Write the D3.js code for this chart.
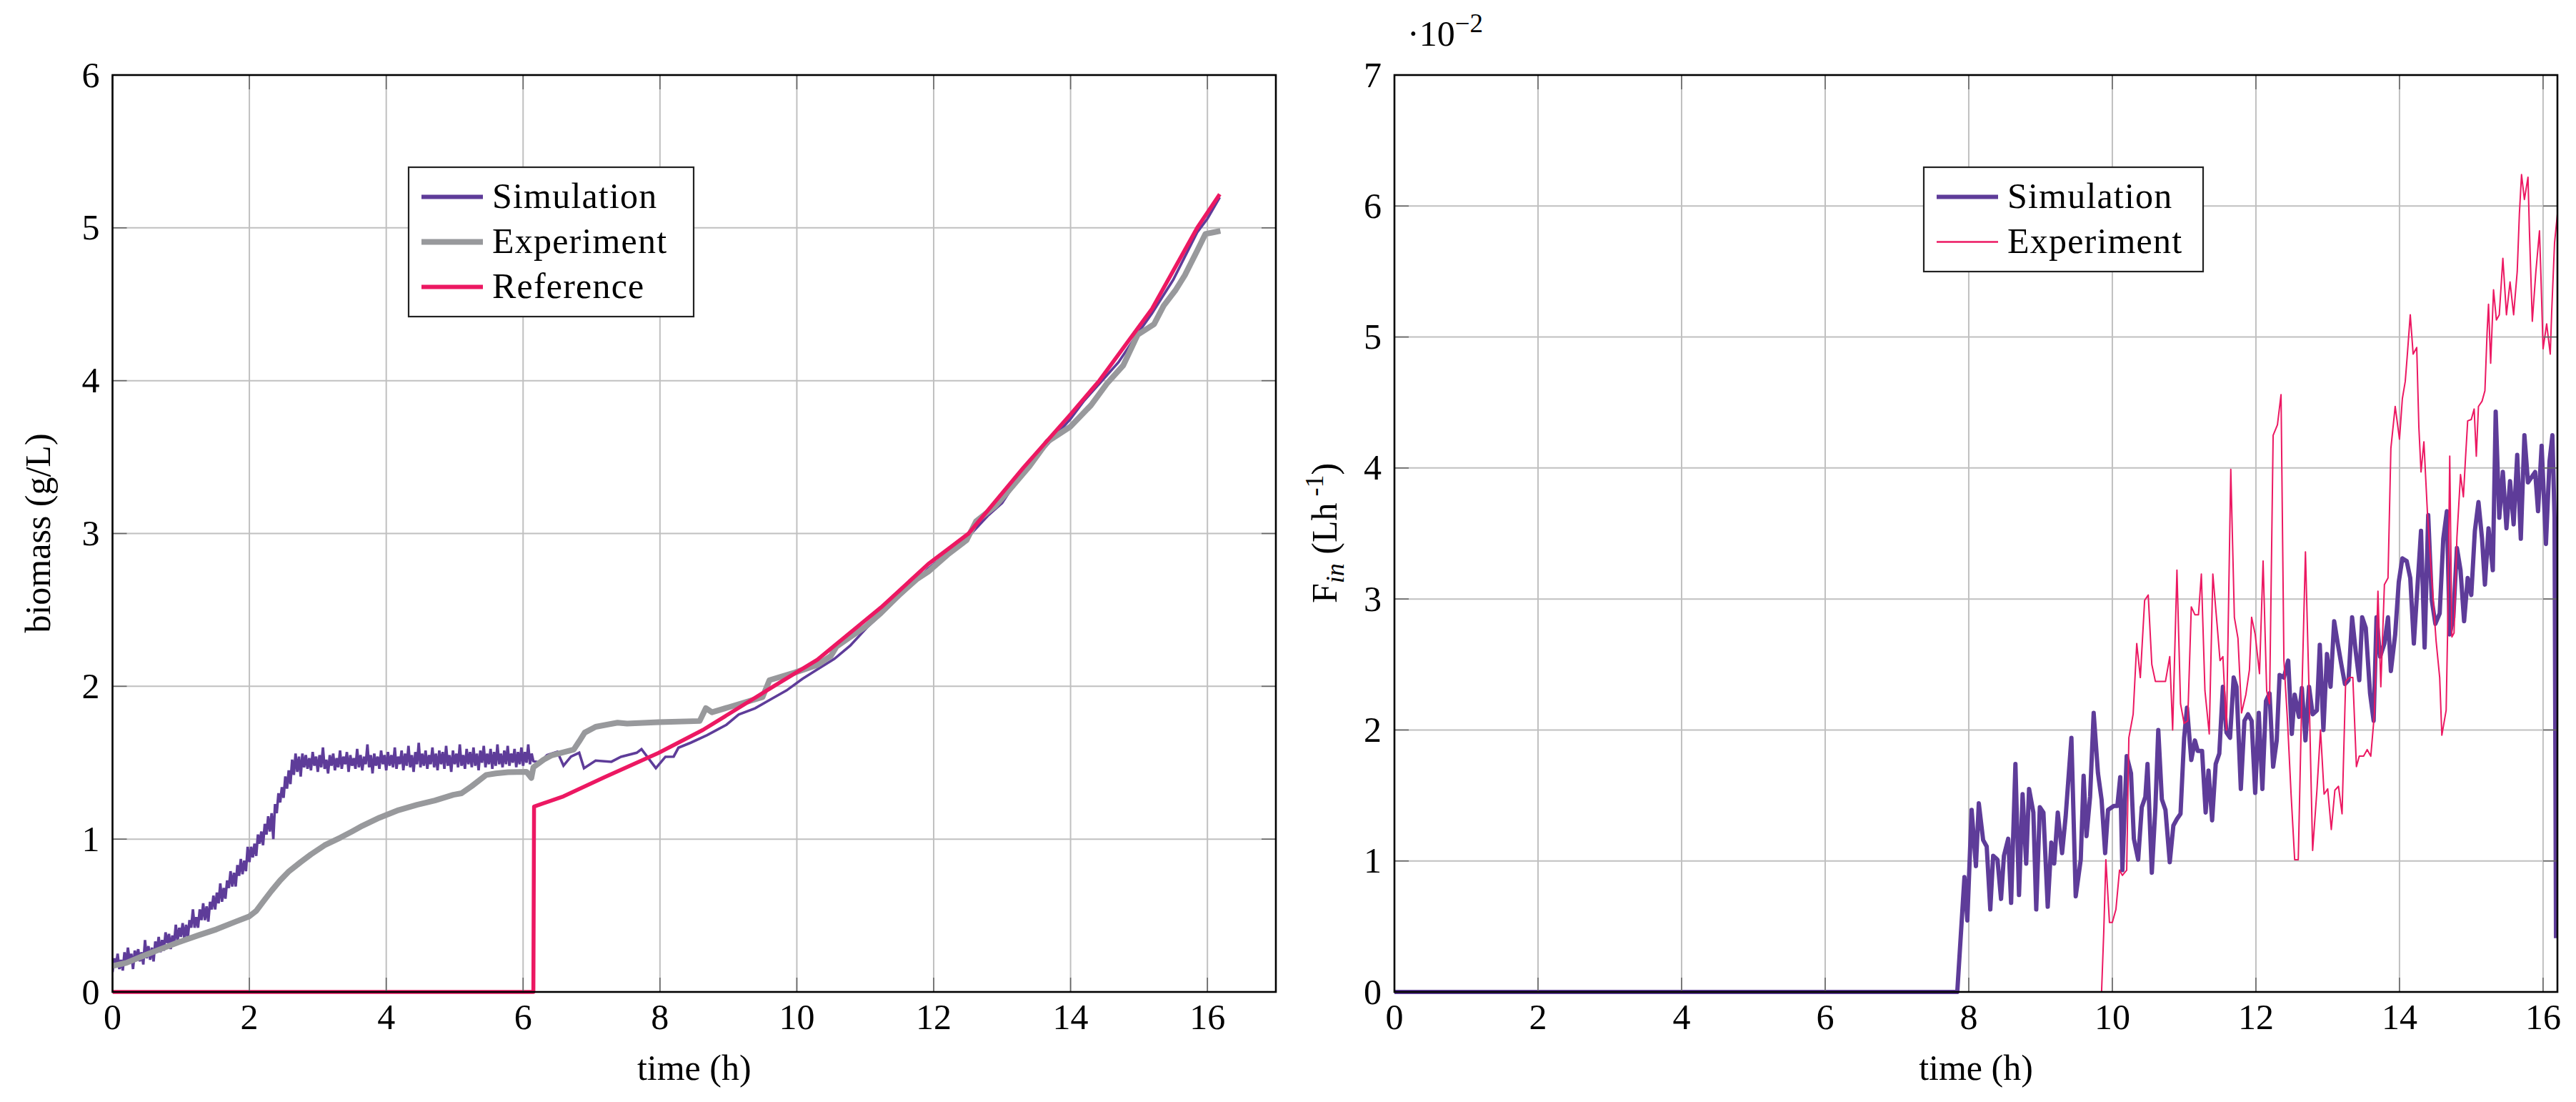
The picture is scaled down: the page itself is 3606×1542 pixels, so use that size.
<!DOCTYPE html>
<html><head><meta charset="utf-8">
<script src="https://cdn.jsdelivr.net/npm/d3@7"></script>
<style>
body{margin:0;background:#fff}
text{font-family:"Liberation Serif","Times New Roman","DejaVu Serif",serif;fill:#000}
</style>
</head><body>
<svg id="chart" width="3606" height="1542"></svg>
<script>
// ---------------- DATA ----------------
const leftXTicks = [0,2,4,6,8,10,12,14,16];
const leftYTicks = [0,1,2,3,4,5,6];
const rightXTicks = [0,2,4,6,8,10,12,14,16];
const rightYTicks = [0,1,2,3,4,5,6,7];   // ×10^-2

const leftLegend = ["Simulation","Experiment","Reference"];
const rightLegend = ["Simulation","Experiment"];

// biomass (g/L) vs time (h)
const bioSimulation = [
[0.000,0.13],[0.025,0.22],[0.050,0.17],[0.075,0.25],[0.100,0.15],[0.125,0.21],[0.150,0.14],[0.175,0.26],[0.200,0.18],[0.225,0.29],
[0.250,0.20],[0.275,0.25],[0.300,0.15],[0.325,0.27],[0.350,0.22],[0.375,0.28],[0.400,0.20],[0.425,0.26],[0.450,0.18],[0.475,0.34],
[0.500,0.22],[0.525,0.30],[0.550,0.21],[0.575,0.29],[0.600,0.20],[0.625,0.33],[0.650,0.27],[0.675,0.36],[0.700,0.26],[0.725,0.34],
[0.750,0.27],[0.775,0.39],[0.800,0.32],[0.825,0.38],[0.850,0.28],[0.875,0.37],[0.900,0.32],[0.925,0.44],[0.950,0.33],[0.975,0.42],
[1.000,0.36],[1.025,0.45],[1.050,0.35],[1.075,0.44],[1.100,0.35],[1.125,0.47],[1.150,0.42],[1.175,0.54],[1.200,0.42],[1.225,0.49],
[1.250,0.42],[1.275,0.54],[1.300,0.47],[1.325,0.58],[1.350,0.47],[1.375,0.56],[1.400,0.46],[1.425,0.59],[1.450,0.54],[1.475,0.63],
[1.500,0.54],[1.525,0.65],[1.550,0.58],[1.575,0.71],[1.600,0.59],[1.625,0.68],[1.650,0.61],[1.675,0.73],[1.700,0.68],[1.725,0.79],
[1.750,0.69],[1.775,0.78],[1.800,0.69],[1.825,0.83],[1.850,0.76],[1.875,0.87],[1.900,0.77],[1.925,0.86],[1.950,0.79],[1.975,0.95],
[2.000,0.85],[2.025,0.95],[2.050,0.88],[2.075,0.97],[2.100,0.89],[2.125,1.03],[2.150,0.97],[2.175,1.05],[2.200,0.96],[2.225,1.10],
[2.250,1.03],[2.275,1.15],[2.300,1.05],[2.325,1.17],[2.350,1.00],[2.375,1.23],[2.400,1.17],[2.425,1.30],[2.450,1.24],[2.475,1.34],
[2.500,1.27],[2.525,1.41],[2.550,1.33],[2.575,1.45],[2.600,1.36],[2.625,1.52],[2.650,1.42],[2.675,1.56],[2.700,1.44],[2.725,1.54],
[2.750,1.41],[2.775,1.56],[2.800,1.47],[2.825,1.55],[2.850,1.46],[2.875,1.53],[2.900,1.45],[2.925,1.57],[2.950,1.48],[2.975,1.54],
[3.000,1.44],[3.025,1.55],[3.050,1.47],[3.075,1.60],[3.100,1.46],[3.125,1.52],[3.150,1.43],[3.175,1.55],[3.200,1.48],[3.225,1.56],
[3.250,1.45],[3.275,1.53],[3.300,1.47],[3.325,1.58],[3.350,1.46],[3.375,1.54],[3.400,1.49],[3.425,1.57],[3.450,1.44],[3.475,1.55],
[3.500,1.48],[3.525,1.53],[3.550,1.46],[3.575,1.59],[3.600,1.47],[3.625,1.55],[3.650,1.45],[3.675,1.54],[3.700,1.49],[3.725,1.62],
[3.750,1.47],[3.775,1.55],[3.800,1.43],[3.825,1.56],[3.850,1.48],[3.875,1.54],[3.900,1.46],[3.925,1.58],[3.950,1.49],[3.975,1.55],
[4.000,1.45],[4.025,1.57],[4.050,1.48],[4.075,1.55],[4.100,1.47],[4.125,1.60],[4.150,1.46],[4.175,1.54],[4.200,1.49],[4.225,1.58],
[4.250,1.45],[4.275,1.56],[4.300,1.48],[4.325,1.61],[4.350,1.47],[4.375,1.55],[4.400,1.44],[4.425,1.57],[4.450,1.49],[4.475,1.63],
[4.500,1.47],[4.525,1.56],[4.550,1.48],[4.575,1.58],[4.600,1.46],[4.625,1.55],[4.650,1.49],[4.675,1.60],[4.700,1.47],[4.725,1.56],
[4.750,1.45],[4.775,1.58],[4.800,1.49],[4.825,1.57],[4.850,1.46],[4.875,1.61],[4.900,1.48],[4.925,1.55],[4.950,1.44],[4.975,1.58],
[5.000,1.49],[5.025,1.56],[5.050,1.47],[5.075,1.62],[5.100,1.48],[5.125,1.55],[5.150,1.46],[5.175,1.59],[5.200,1.49],[5.225,1.57],
[5.250,1.47],[5.275,1.60],[5.300,1.48],[5.325,1.56],[5.350,1.45],[5.375,1.58],[5.400,1.50],[5.425,1.61],[5.450,1.47],[5.475,1.56],
[5.500,1.49],[5.525,1.59],[5.550,1.46],[5.575,1.57],[5.600,1.48],[5.625,1.62],[5.650,1.49],[5.675,1.56],[5.700,1.47],[5.725,1.58],
[5.750,1.49],[5.775,1.61],[5.800,1.48],[5.825,1.56],[5.850,1.50],[5.875,1.59],[5.900,1.47],[5.925,1.57],[5.950,1.49],[5.975,1.60],
[6.000,1.48],[6.025,1.57],[6.050,1.50],[6.075,1.62],[6.100,1.49],[6.125,1.56],[6.150,1.51],
[6.25,1.50],[6.35,1.55],[6.50,1.572],[6.59,1.481],[6.70,1.54],[6.82,1.565],[6.89,1.464],[7.06,1.514],[7.29,1.506],[7.43,1.539],
[7.66,1.565],[7.73,1.589],[7.94,1.464],[8.08,1.539],[8.20,1.54],[8.27,1.598],[8.45,1.631],[8.69,1.681],[8.97,1.748],[9.15,1.815],
[9.39,1.856],[9.62,1.915],[9.85,1.973],[10.08,2.048],[10.32,2.116],[10.55,2.18],[10.78,2.266],[11.02,2.383],[11.3,2.50],[11.6,2.63],
[11.92,2.77],[12.2,2.87],[12.51,2.98],[12.8,3.12],[13.0,3.20],[13.31,3.41],[13.6,3.55],[14.0,3.75],[14.2,3.87],[14.42,3.98],
[14.7,4.12],[15.0,4.32],[15.19,4.44],[15.5,4.66],[15.85,4.97],[16.0,5.06],[16.18,5.20]
];
const bioExperiment = [
[0,0.17],[0.2,0.19],[0.45,0.236],[0.7,0.28],[0.985,0.328],[1.25,0.37],[1.52,0.41],[1.8,0.46],[2.0,0.495],[2.1,0.53],
[2.2,0.59],[2.32,0.66],[2.45,0.73],[2.58,0.79],[2.75,0.85],[2.9,0.90],[3.1,0.96],[3.33,1.01],[3.5,1.05],[3.65,1.087],
[3.9,1.14],[4.18,1.19],[4.45,1.225],[4.71,1.253],[4.98,1.29],[5.1,1.30],[5.25,1.347],[5.46,1.42],[5.6,1.43],[5.78,1.438],
[6.05,1.44],[6.12,1.40],[6.15,1.47],[6.3,1.52],[6.42,1.549],[6.6,1.57],[6.74,1.586],[6.82,1.64],[6.9,1.697],[7.06,1.735],
[7.38,1.762],[7.52,1.756],[7.98,1.765],[8.58,1.773],[8.67,1.857],[8.76,1.83],[9.13,1.88],[9.50,1.93],[9.60,2.04],[9.97,2.09],
[10.30,2.14],[10.5,2.20],[10.58,2.26],[10.76,2.316],[11.0,2.39],[11.23,2.48],[11.5,2.60],[11.75,2.70],[11.92,2.75],[12.2,2.86],
[12.48,2.956],[12.62,3.08],[12.9,3.18],[13.07,3.266],[13.4,3.44],[13.66,3.60],[14.0,3.70],[14.3,3.84],[14.53,3.98],[14.77,4.10],
[14.98,4.30],[15.22,4.37],[15.36,4.49],[15.53,4.59],[15.67,4.69],[15.85,4.85],[15.97,4.96],[16.08,4.97],[16.19,4.98]
];
const bioReference = [
[0,0],[6.15,0],[6.16,1.213],[6.59,1.28],[7.19,1.405],[7.98,1.564],[8.63,1.715],[9.66,2.0],[10.30,2.174],[11.23,2.516],
[11.92,2.80],[12.51,3.0],[13.31,3.43],[14.0,3.78],[14.42,4.0],[15.19,4.47],[15.85,5.0],[16.18,5.22]
];

// F_in (×10^-2 L/h) vs time (h)
const feedSimulation = [
[0,0],[7.84,0],[7.94,0.877],[7.98,0.546],[8.04,1.39],[8.10,0.96],[8.14,1.44],[8.20,1.16],[8.25,1.11],[8.30,0.63],
[8.34,1.04],[8.40,1.01],[8.45,0.71],[8.49,1.04],[8.55,1.17],[8.59,0.68],[8.65,1.74],[8.70,0.74],[8.75,1.51],[8.80,0.98],
[8.84,1.55],[8.90,1.37],[8.94,0.63],[8.99,1.41],[9.04,1.37],[9.10,0.65],[9.15,1.14],[9.19,0.98],[9.24,1.37],[9.30,1.06],
[9.35,1.34],[9.43,1.94],[9.49,0.73],[9.56,1.01],[9.60,1.65],[9.64,1.19],[9.69,1.49],[9.74,2.13],[9.80,1.67],[9.85,1.47],
[9.90,1.06],[9.94,1.39],[10.02,1.42],[10.07,1.42],[10.11,1.64],[10.14,0.93],[10.20,1.80],[10.26,1.67],[10.30,1.17],[10.36,1.01],
[10.41,1.41],[10.46,1.49],[10.49,1.74],[10.55,0.91],[10.60,1.41],[10.64,2.00],[10.69,1.47],[10.74,1.39],[10.80,0.99],[10.85,1.27],
[10.90,1.32],[10.95,1.36],[11.00,1.94],[11.04,2.17],[11.10,1.77],[11.15,1.92],[11.19,1.84],[11.25,1.84],[11.30,1.37],[11.34,1.69],
[11.39,1.31],[11.44,1.74],[11.49,1.82],[11.54,2.33],[11.59,1.98],[11.64,1.94],[11.69,2.40],[11.73,2.33],[11.79,1.55],[11.84,2.07],
[11.89,2.12],[11.94,2.07],[11.99,1.52],[12.04,2.13],[12.09,1.55],[12.14,2.22],[12.19,2.28],[12.24,1.72],[12.29,1.92],[12.33,2.42],
[12.39,2.40],[12.45,2.53],[12.50,1.97],[12.54,2.27],[12.60,2.10],[12.64,2.32],[12.69,1.92],[12.74,2.33],[12.79,2.12],[12.85,2.15],
[12.89,2.65],[12.94,2.00],[12.99,2.58],[13.04,2.33],[13.09,2.83],[13.14,2.66],[13.19,2.50],[13.24,2.35],[13.29,2.38],[13.34,2.86],
[13.39,2.60],[13.44,2.38],[13.48,2.86],[13.53,2.78],[13.59,2.28],[13.64,2.07],[13.68,2.86],[13.73,2.56],[13.79,2.66],[13.84,2.86],
[13.88,2.45],[13.94,2.73],[13.99,3.13],[14.04,3.31],[14.10,3.29],[14.15,3.16],[14.20,2.66],[14.25,3.09],[14.30,3.52],[14.35,2.63],
[14.40,3.64],[14.45,2.99],[14.50,2.81],[14.56,2.89],[14.61,3.46],[14.66,3.67],[14.70,2.73],[14.75,2.86],[14.80,3.39],[14.85,3.22],
[14.90,2.83],[14.95,3.16],[15.00,3.03],[15.05,3.52],[15.10,3.74],[15.15,3.46],[15.19,3.11],[15.24,3.54],[15.30,3.22],[15.34,4.43],
[15.39,3.62],[15.44,3.97],[15.49,3.54],[15.54,3.90],[15.59,3.57],[15.64,4.10],[15.69,3.46],[15.74,4.25],[15.79,3.89],[15.89,3.97],
[15.93,3.67],[15.98,4.17],[16.04,3.42],[16.09,4.05],[16.13,4.25],[16.16,3.62],[16.18,0.41]
];
const feedExperiment = [
[0,0],[9.85,0],[9.88,0.45],[9.91,1.01],[9.96,0.53],[10.00,0.53],[10.05,0.63],[10.10,0.93],[10.14,0.89],[10.20,0.93],
[10.23,1.94],[10.29,2.12],[10.34,2.66],[10.39,2.40],[10.45,2.99],[10.50,3.03],[10.55,2.50],[10.60,2.37],[10.74,2.37],[10.80,2.56],
[10.84,2.00],[10.90,3.22],[10.95,2.20],[11.00,2.05],[11.05,2.07],[11.10,2.94],[11.15,2.88],[11.20,2.88],[11.24,3.19],[11.29,2.30],
[11.35,1.97],[11.40,3.19],[11.46,2.80],[11.50,2.53],[11.54,2.56],[11.59,2.00],[11.65,3.99],[11.70,2.86],[11.75,2.70],[11.80,2.13],
[11.86,2.27],[11.91,2.46],[11.94,2.86],[11.99,2.73],[12.05,2.43],[12.10,3.29],[12.15,2.30],[12.19,2.20],[12.24,4.25],[12.30,4.33],
[12.35,4.56],[12.39,2.53],[12.44,2.07],[12.49,1.51],[12.54,1.01],[12.59,1.01],[12.64,2.27],[12.69,3.36],[12.74,2.30],[12.79,1.08],
[12.85,1.54],[12.90,2.00],[12.95,1.51],[13.00,1.55],[13.05,1.24],[13.10,1.54],[13.15,1.57],[13.20,1.36],[13.25,2.37],[13.30,2.40],
[13.35,2.40],[13.40,1.72],[13.44,1.80],[13.50,1.80],[13.55,1.85],[13.60,1.80],[13.65,2.12],[13.70,3.06],[13.74,2.33],[13.79,3.11],
[13.84,3.16],[13.88,4.15],[13.94,4.47],[14.00,4.22],[14.04,4.53],[14.08,4.66],[14.11,4.87],[14.15,5.17],[14.19,4.87],[14.24,4.92],
[14.27,4.31],[14.30,3.97],[14.34,4.20],[14.39,3.65],[14.45,3.15],[14.51,2.68],[14.56,2.40],[14.59,1.96],[14.65,2.15],[14.67,2.74],
[14.70,4.09],[14.73,2.71],[14.76,2.74],[14.80,3.47],[14.85,3.95],[14.89,3.78],[14.92,4.08],[14.95,4.36],[15.00,4.37],[15.04,4.45],
[15.07,4.09],[15.10,4.47],[15.15,4.51],[15.19,4.59],[15.22,5.03],[15.24,5.25],[15.27,4.80],[15.31,5.36],[15.35,5.13],[15.39,5.17],
[15.44,5.60],[15.49,5.17],[15.54,5.42],[15.59,5.17],[15.64,5.50],[15.67,5.94],[15.70,6.24],[15.74,6.05],[15.79,6.22],[15.81,5.81],
[15.85,5.12],[15.90,5.50],[15.95,5.81],[15.97,5.47],[16.00,4.91],[16.05,5.10],[16.10,4.87],[16.12,5.19],[16.16,5.72],[16.20,5.94]
];

// ---------------- STYLE ----------------
const PURPLE = "#5e3c99", GRAY = "#98999c", PINK = "#ec1862";
const FONT = 50;
const FF = '"Liberation Serif","Times New Roman","DejaVu Serif",serif';
const svg = d3.select("#chart");
svg.append("rect").attr("width",3606).attr("height",1542).attr("fill","#fff");

function txt(sel){ return sel.attr("font-family",FF).attr("font-size",FONT); }

function panel(cfg){
  const g = svg.append("g");
  const x = d3.scaleLinear().domain(cfg.xDomain).range([cfg.left, cfg.right]);
  const y = d3.scaleLinear().domain(cfg.yDomain).range([cfg.bottom, cfg.top]);
  const clipId = "clip" + cfg.id;
  svg.append("clipPath").attr("id", clipId).append("rect")
     .attr("x", cfg.left).attr("y", cfg.top - 4)
     .attr("width", cfg.right - cfg.left).attr("height", cfg.bottom - cfg.top + 8);

  // grid
  g.append("g").selectAll("line").data(cfg.xTicks).join("line")
    .attr("x1", d=>x(d)).attr("x2", d=>x(d)).attr("y1", cfg.top).attr("y2", cfg.bottom)
    .attr("stroke","#c0c0c0").attr("stroke-width",2);
  g.append("g").selectAll("line").data(cfg.yTicks).join("line")
    .attr("y1", d=>y(d)).attr("y2", d=>y(d)).attr("x1", cfg.left).attr("x2", cfg.right)
    .attr("stroke","#c0c0c0").attr("stroke-width",2);

  // series
  const line = d3.line().x(d=>x(d[0])).y(d=>y(d[1]));
  const sg = g.append("g").attr("clip-path", `url(#${clipId})`);
  cfg.series.forEach(s=>{
    sg.append("path").datum(s.data).attr("d", line)
      .attr("fill","none").attr("stroke", s.color).attr("stroke-width", s.width)
      .attr("stroke-linejoin", s.join || "round").attr("stroke-linecap","butt");
  });

  // tick marks (inside, all four sides)
  const tl = 20;
  const tg = g.append("g").attr("stroke","#666").attr("stroke-width",1.6);
  cfg.xTicks.forEach(d=>{
    tg.append("line").attr("x1",x(d)).attr("x2",x(d)).attr("y1",cfg.bottom).attr("y2",cfg.bottom-tl);
    tg.append("line").attr("x1",x(d)).attr("x2",x(d)).attr("y1",cfg.top).attr("y2",cfg.top+tl);
  });
  cfg.yTicks.forEach(d=>{
    tg.append("line").attr("y1",y(d)).attr("y2",y(d)).attr("x1",cfg.left).attr("x2",cfg.left+tl);
    tg.append("line").attr("y1",y(d)).attr("y2",y(d)).attr("x1",cfg.right).attr("x2",cfg.right-tl);
  });

  // frame
  g.append("rect").attr("x",cfg.left).attr("y",cfg.top)
    .attr("width",cfg.right-cfg.left).attr("height",cfg.bottom-cfg.top)
    .attr("fill","none").attr("stroke","#000").attr("stroke-width",2.6);

  // tick labels
  txt(g.append("g").selectAll("text").data(cfg.xTicks).join("text"))
    .attr("x", d=>x(d)).attr("y", cfg.bottom + 52).attr("text-anchor","middle").text(d=>d);
  txt(g.append("g").selectAll("text").data(cfg.yTicks).join("text"))
    .attr("x", cfg.left - 18).attr("y", d=>y(d)).attr("dy","0.33em").attr("text-anchor","end").text(d=>d);

  // x label
  txt(g.append("text")).attr("x",(cfg.left+cfg.right)/2).attr("y",cfg.bottom+123)
    .attr("text-anchor","middle").text("time (h)");

  // legend
  const L = cfg.legend;
  g.append("rect").attr("x",L.x).attr("y",L.y).attr("width",L.w).attr("height",L.h)
    .attr("fill","#fff").attr("stroke","#222").attr("stroke-width",2.2);
  cfg.series.forEach((s,i)=>{
    const ly = L.y + 41.5 + i*63;
    g.append("line").attr("x1",L.x+18).attr("x2",L.x+104).attr("y1",ly).attr("y2",ly)
      .attr("stroke",s.color).attr("stroke-width",s.legendWidth);
    txt(g.append("text")).attr("x",L.x+117).attr("y",ly+15).attr("letter-spacing",1.2).text(s.name);
  });
  return {g,x,y};
}

// Left panel
const P1 = panel({
  id:1, left:157.5, right:1786, top:105, bottom:1388,
  xDomain:[0,17], yDomain:[0,6], xTicks:leftXTicks, yTicks:leftYTicks,
  series:[
    {name:leftLegend[0], data:bioSimulation, color:PURPLE, width:3.6, legendWidth:6, join:"miter"},
    {name:leftLegend[1], data:bioExperiment, color:GRAY, width:8, legendWidth:8},
    {name:leftLegend[2], data:bioReference, color:PINK, width:5.5, legendWidth:6}
  ],
  legend:{x:572, y:234, w:399, h:209}
});
txt(P1.g.append("text")).attr("transform","translate(70,746) rotate(-90)")
  .attr("text-anchor","middle").text("biomass (g/L)");

// Right panel
const P2 = panel({
  id:2, left:1952, right:3580, top:105, bottom:1388,
  xDomain:[0,16.2], yDomain:[0,7], xTicks:rightXTicks, yTicks:rightYTicks,
  series:[
    {name:rightLegend[0], data:feedSimulation, color:PURPLE, width:6, legendWidth:6},
    {name:rightLegend[1], data:feedExperiment, color:PINK, width:2, legendWidth:2.5}
  ],
  legend:{x:2693, y:234, w:391, h:146}
});
const yl = txt(P2.g.append("text")).attr("transform","translate(1871,746) rotate(-90)")
  .attr("text-anchor","middle");
yl.append("tspan").text("F");
yl.append("tspan").attr("font-style","italic").attr("font-size",36).attr("dy",10).text("in");
yl.append("tspan").attr("dy",-10).text(" (Lh");
yl.append("tspan").attr("font-size",36).attr("dy",-19).text(" -1");
yl.append("tspan").attr("dy",19).text(")");

const mult = txt(P2.g.append("text")).attr("x",1970).attr("y",64);
mult.append("tspan").text("·10");
mult.append("tspan").attr("font-size",37).attr("dy",-19).text("−2");
</script>
</body></html>
